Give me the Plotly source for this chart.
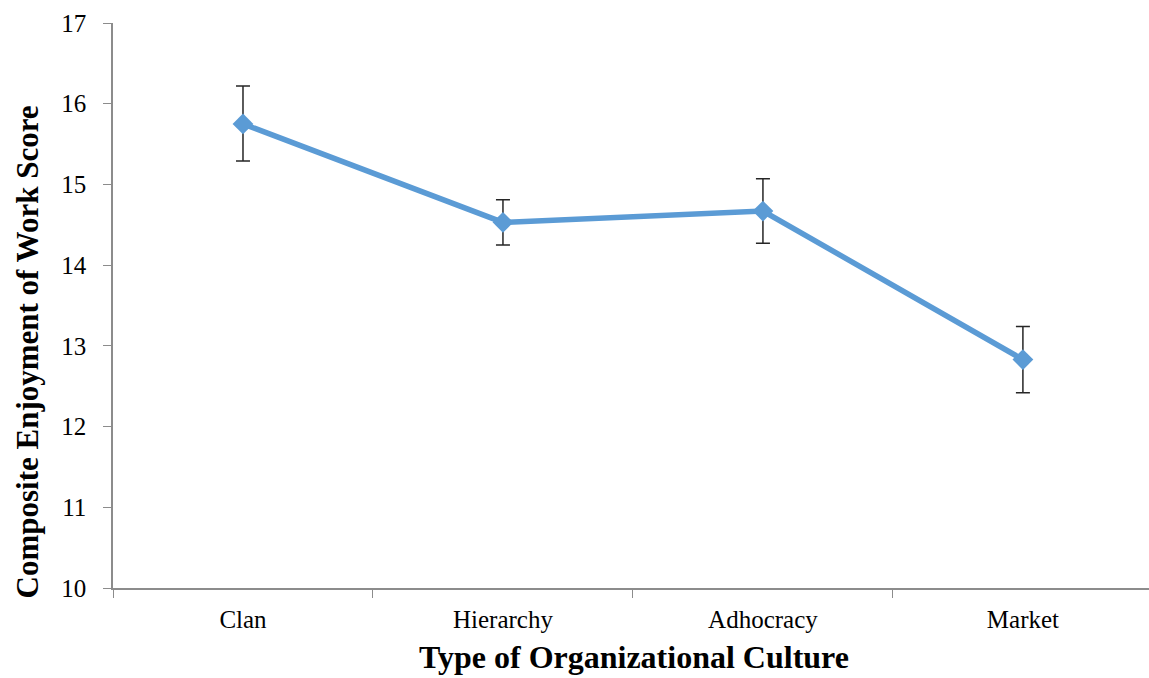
import plotly.graph_objects as go

categories = ["Clan", "Hierarchy", "Adhocracy", "Market"]
means = [15.75, 14.53, 14.67, 12.83]
upper = [16.22, 14.81, 15.07, 13.24]
lower = [15.29, 14.25, 14.27, 12.42]

err_plus = [u - m for u, m in zip(upper, means)]
err_minus = [m - l for m, l in zip(means, lower)]

y_ticks = [10, 11, 12, 13, 14, 15, 16, 17]

FONT = "Liberation Serif, Times New Roman, serif"
AXIS_COLOR = "#8c8c8c"

fig = go.Figure()
fig.add_trace(go.Scatter(
    x=categories, y=means,
    mode="lines+markers",
    line=dict(color="#5B9BD5", width=5.5),
    marker=dict(symbol="diamond", size=16, color="#5B9BD5"),
    error_y=dict(type="data", symmetric=False, array=err_plus, arrayminus=err_minus,
                 color="#262626", thickness=1.5, width=7),
    showlegend=False,
))

fig.update_layout(
    width=1149, height=678,
    margin=dict(l=113, r=0, t=23, b=90),
    paper_bgcolor="white", plot_bgcolor="white",
    font=dict(family=FONT, color="#000000"),
    xaxis=dict(
        type="category", range=[-0.5, 3.485],
        showline=True, linecolor=AXIS_COLOR, linewidth=1.5,
        ticks="outside", tickson="boundaries", ticklen=8, tickcolor=AXIS_COLOR, tickwidth=1,
        showgrid=False, zeroline=False,
        tickfont=dict(family=FONT, size=25, color="#000000"),
        ticklabelstandoff=8,
    ),
    yaxis=dict(
        range=[10, 17], tickvals=y_ticks,
        showline=True, linecolor=AXIS_COLOR, linewidth=1.5,
        ticks="outside", ticklen=8, tickcolor=AXIS_COLOR, tickwidth=1,
        showgrid=False, zeroline=False,
        tickfont=dict(family=FONT, size=25, color="#000000"),
        ticklabelstandoff=12,
    ),
    annotations=[
        dict(text="<b>Type of Organizational Culture</b>", xref="paper", yref="paper",
             x=0.503, y=-0.125, xanchor="center", yanchor="middle", showarrow=False,
             font=dict(family=FONT, size=32, color="#000000"), yshift=2),
        dict(text="<b>Composite Enjoyment of Work Score</b>", xref="paper", yref="paper",
             x=0, y=0.5, xanchor="center", yanchor="middle", showarrow=False, textangle=-90,
             xshift=-86, yshift=-47,
             font=dict(family=FONT, size=31, color="#000000")),
    ],
)

fig.write_html("out.html")
